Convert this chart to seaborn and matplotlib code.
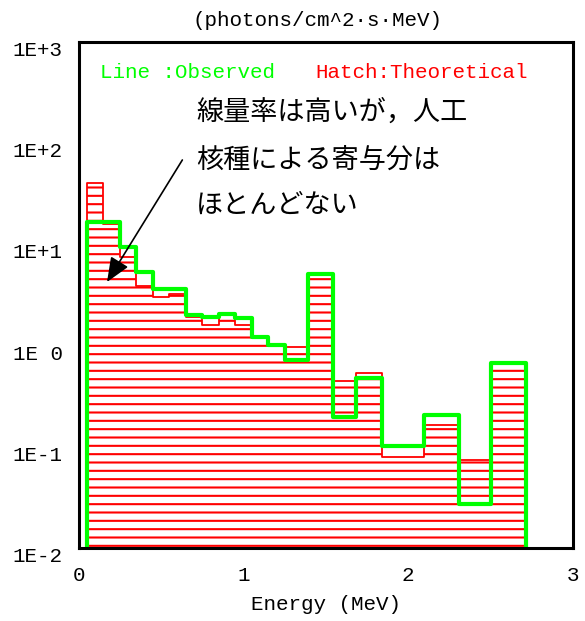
import numpy as np
import pandas as pd
import matplotlib
matplotlib.use("Agg")
import matplotlib.pyplot as plt
import matplotlib.transforms as mtransforms
from matplotlib.ticker import NullLocator
import seaborn as sns

# Energy bin edges (MeV) of the gamma-ray spectrum
energy_edges = [0.05, 0.15, 0.25, 0.35, 0.45, 0.55, 0.65, 0.75, 0.85, 0.95,
                1.05, 1.15, 1.25, 1.39, 1.545, 1.685, 1.84, 2.095, 2.31,
                2.505, 2.715]

# Observed flux per bin (photons/cm^2·s·MeV)
observed = [16.6, 16.6, 9.4, 5.3, 3.6, 3.6, 1.98, 1.91, 2.02, 1.87,
            1.21, 1.0, 0.72, 5.05, 0.194, 0.47, 0.10, 0.206, 0.0267, 0.67]

# Theoretical flux per bin (photons/cm^2·s·MeV)
theoretical = [40.3, 15.7, 7.4, 3.84, 2.97, 3.2, 1.90, 1.58, 2.0, 1.58,
               1.2, 1.0, 0.96, 5.05, 0.44, 0.53, 0.078, 0.163, 0.073, 0.67]

y_ticks = [1e-2, 1e-1, 1e0, 1e1, 1e2, 1e3]
y_tick_labels = ["1E-2", "1E-1", "1E 0", "1E+1", "1E+2", "1E+3"]
x_ticks = [0, 1, 2, 3]
x_tick_labels = ["0", "1", "2", "3"]

title_text = "(photons/cm^2·s·MeV)"
legend_observed = "Line :Observed"
legend_theoretical = "Hatch:Theoretical"
note_lines = ["線量率は高いが，人工", "核種による寄与分は", "ほとんどない"]

sns.set_style("white")
mono = ["Liberation Mono", "DejaVu Sans Mono"]
plt.rcParams["font.family"] = mono
plt.rcParams["hatch.linewidth"] = 1.5
for key in ["text.color", "axes.labelcolor", "xtick.color", "ytick.color"]:
    plt.rcParams[key] = "black"

W, H, DPI = 585, 621, 100
fig = plt.figure(figsize=(W / DPI, H / DPI), dpi=DPI)
ax = fig.add_axes([78.5 / W, 1 - 547.5 / H, (573 - 78.5) / W, (547.5 - 41.5) / H])
ax.set_yscale("log")

edges = np.asarray(energy_edges, dtype=float)
spectrum = pd.DataFrame({
    "energy": (edges[:-1] + edges[1:]) / 2,
    "observed": observed,
    "theoretical": theoretical,
})
ymin, ymax = y_ticks[0], y_ticks[-1]

# Theoretical spectrum: hatched bars
sns.histplot(data=spectrum, x="energy", weights="theoretical",
             bins=list(energy_edges), element="bars", fill=True,
             facecolor="none", edgecolor="#ff0000", linewidth=0,
             hatch="--", ax=ax)


def step_outline(values):
    xs = np.concatenate([[edges[0]], edges[:-1], [edges[-1], edges[-1]]])
    ys = np.concatenate([[ymin], values, [values[-1], ymin]])
    return xs, ys


# Theoretical outline
tx, ty = step_outline(spectrum["theoretical"].to_numpy())
sns.lineplot(x=tx, y=ty, estimator=None, sort=False, drawstyle="steps-post",
             color="#ff0000", linewidth=1.3, ax=ax)

# Observed spectrum: thick green step line
ox, oy = step_outline(spectrum["observed"].to_numpy())
sns.lineplot(x=ox, y=oy, estimator=None, sort=False, drawstyle="steps-post",
             color="#00ff00", linewidth=3.0, ax=ax)

ax.set_xlim(0, 3)
ax.set_ylim(ymin, ymax)
ax.set_ylabel("")

ax.set_xticks(x_ticks)
ax.set_xticklabels(x_tick_labels, fontsize=15)
ax.set_yticks(y_ticks)
ax.set_yticklabels(y_tick_labels, fontsize=15)
ax.yaxis.set_minor_locator(NullLocator())
ax.tick_params(axis="both", direction="in", length=5, width=1.1,
               color="black", labelcolor="black")
ax.tick_params(axis="y", pad=11.5)
ax.tick_params(axis="x", pad=13)

offset = mtransforms.ScaledTranslation(0, -7 / DPI, fig.dpi_scale_trans)
for lab in ax.get_yticklabels():
    lab.set_transform(lab.get_transform() + offset)

ax.set_xlabel("Energy (MeV)", fontsize=15, va="center", color="black")
ax.xaxis.set_label_coords(0.5, (547.5 - 605) / 506)

for sp in ax.spines.values():
    sp.set_visible(True)
    sp.set_color("black")
    sp.set_linewidth(2.2)

fig.text(317 / W, 1 - 20 / H, title_text, ha="center", va="center",
         fontsize=15, color="black")
fig.text(100 / W, 1 - 73 / H, legend_observed, ha="left", va="center",
         fontsize=15, color="#00ff00")
fig.text(315 / W, 1 - 73 / H, legend_theoretical, ha="left", va="center",
         fontsize=15, color="#ff0000")

jp = ["Noto Sans CJK JP", "DejaVu Sans"]
for line, yc in zip(note_lines, [112, 160, 205]):
    fig.text(196 / W, 1 - yc / H, line, ha="left", va="center",
             fontsize=19.5, family=jp, color="black")

# Arrow pointing at the low-energy region
ax.annotate("", xy=(0.173, 4.2), xytext=(0.63, 67.5),
            arrowprops=dict(arrowstyle="-|>,head_length=0.6,head_width=0.25",
                            color="black", lw=1.2, mutation_scale=25,
                            shrinkA=0, shrinkB=0))

fig.savefig("out.png", dpi=DPI, facecolor="white")
